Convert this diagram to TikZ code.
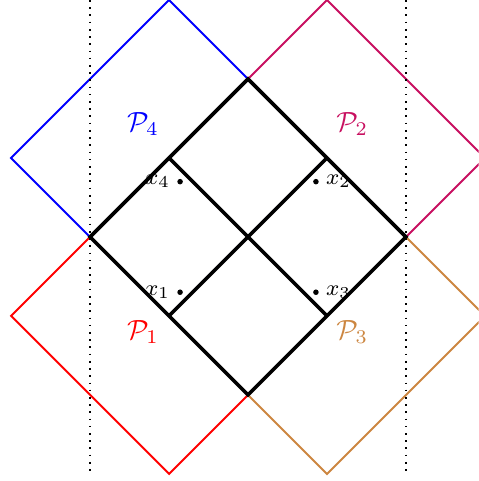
\documentclass[tikz,border=0pt]{standalone}
\usepackage{amsmath}
\usetikzlibrary{calc}

\definecolor{pcrimson}{RGB}{200,16,96}
\definecolor{pochre}{RGB}{204,134,64}

\begin{document}
\begin{tikzpicture}[line width=0.7pt]
  \useasboundingbox (-3.14,-3.09) rectangle (2.92,3.00);
  \clip (-3.14,-3.09) rectangle (2.92,3.00);

  \coordinate (T) at (0, 2);
  \coordinate (L) at (-2, 0);
  \coordinate (R) at (2, 0);
  \coordinate (B) at (0, -2);
  % midpoints of the sides = centres of the coloured squares
  \coordinate (C1) at (-1, -1);
  \coordinate (C2) at (1, 1);
  \coordinate (C3) at (1, -1);
  \coordinate (C4) at (-1, 1);
  % the four points
  \coordinate (X1) at (-0.86, -0.70);
  \coordinate (X2) at (0.86, 0.70);
  \coordinate (X3) at (0.86, -0.70);
  \coordinate (X4) at (-0.86, 0.70);

  % coloured squares, radius 2
  \draw[red]      (C1) ++(-2,0) -- ++(2,2) -- ++(2,-2) -- ++(-2,-2) -- cycle;
  \draw[pcrimson] (C2) ++(-2,0) -- ++(2,2) -- ++(2,-2) -- ++(-2,-2) -- cycle;
  \draw[pochre]   (C3) ++(-2,0) -- ++(2,2) -- ++(2,-2) -- ++(-2,-2) -- cycle;
  \draw[blue]     (C4) ++(-2,0) -- ++(2,2) -- ++(2,-2) -- ++(-2,-2) -- cycle;

  % strip
  \draw[semithick, dotted] (-2, 3) -- (-2, -3);
  \draw[semithick, dotted] (2, 3) -- (2, -3);

  % the big square and its four quarters
  \draw[line width=1.3pt] (T)--(L)--(B)--(R)--cycle;
  \draw[line width=1.3pt] (C4)--(C3);
  \draw[line width=1.3pt] (C2)--(C1);

  \fill (X1) circle (1pt);
  \fill (X2) circle (1pt);
  \fill (X3) circle (1pt);
  \fill (X4) circle (1pt);

  \node[left, font=\footnotesize]  (x1) at (X1) {$x_1$};
  \node[right, font=\footnotesize] (x2) at (X2) {$x_2$};
  \node[right, font=\footnotesize] (x3) at (X3) {$x_3$};
  \node[left, font=\footnotesize]  (x4) at (X4) {$x_4$};

  \node[red]      (p1) at (-1.33, -1.20) {$\mathcal{P}_1$};
  \node[pcrimson] (p2) at (1.32, 1.43)   {$\mathcal{P}_2$};
  \node[pochre]   (p3) at (1.32, -1.20)  {$\mathcal{P}_3$};
  \node[blue]     (p4) at (-1.33, 1.43)  {$\mathcal{P}_4$};
\end{tikzpicture}
\end{document}
